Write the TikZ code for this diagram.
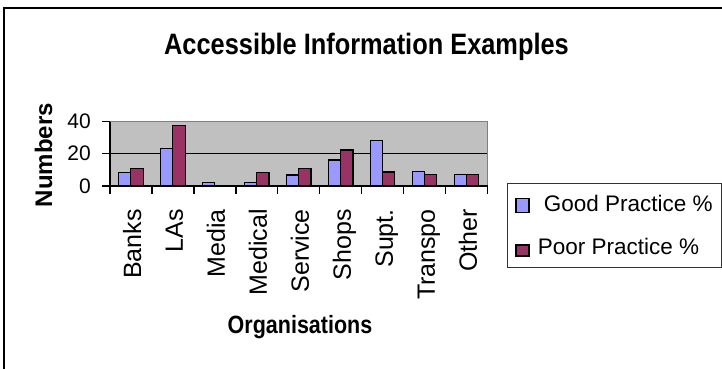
\documentclass[tikz,border=0pt]{standalone}
\usepackage{fontspec}
\setmainfont{Liberation Sans}
\newfontfamily\condfont{Liberation Sans}[FakeStretch=0.86]
\usepackage{tikz}
\usetikzlibrary{positioning}

\begin{document}
\begin{tikzpicture}[x=1pt, y=-1pt,
    bar/.style={draw=black, line width=1.1pt},
    axis/.style={draw=black, line width=1.2pt},
    cat/.style={rotate=90, anchor=base east, inner sep=0pt,
                font=\fontsize{25}{30}\selectfont},
    numlabel/.style={anchor=east, inner sep=0pt, font=\fontsize{21}{25}\selectfont},
    keytext/.style={inner sep=0pt, font=\fontsize{22.5}{27}\selectfont},
    swatch/.style={draw=black, line width=1.1pt, minimum width=13pt, inner sep=0pt},
]

% Color definitions
\definecolor{goodC}{RGB}{153,153,255}
\definecolor{poorC}{RGB}{153,51,102}
\definecolor{plotC}{RGB}{192,192,192}
\definecolor{edgeC}{RGB}{128,128,128}

\clip (0,0) rectangle (722,368);

% Chart frame
\draw[line width=2pt] (4,380) -- (4,8) -- (740,8);

\node[anchor=base, font=\condfont\bfseries\fontsize{29.5}{35}\selectfont] (title) at (366.5,54)
  {Accessible Information Examples};

% Plot area
\fill[plotC] (110,121.5) rectangle (487.7,186);
\draw[line width=1pt] (110,153.75) -- (487.7,153.75);
\draw[edgeC, line width=1.2pt] (110,121.5) -- (487.7,121.5) -- (487.7,186);

% Bars
\foreach \i/\name/\g/\p in {0/Banks/8.5/11, 1/LAs/23.4/37.4, 2/Media/2.3/0,
    3/Medical/2.3/8.5, 4/Service/6.8/11, 5/Shops/16.1/22.3,
    6/Supt./28.5/8.7, 7/Transpo/8.9/7.3, 8/Other/7.3/7.3} {
  \draw[bar, fill=goodC] ({110+41.97*\i+8.3},186) rectangle ({110+41.97*\i+20.7},{186-\g*1.6125});
  \draw[bar, fill=poorC] ({110+41.97*\i+20.7},186) rectangle ({110+41.97*\i+33.1},{186-\p*1.6125});
  \node[cat] (cat\i) at ({110+41.97*\i+31},209) {\name};
}

% Axes
\draw[axis] (110,121.5) -- (110,194);
\draw[axis] (110,186) -- (487.7,186);
\foreach \k in {1,...,9} {
  \draw[axis] ({110+41.97*\k},186) -- ({110+41.97*\k},194);
}
\foreach \v/\y in {40/121.5, 20/153.75, 0/186} {
  \draw[axis] (102,\y) -- (110,\y);
  \node[numlabel] (num\v) at (91,\y) {\v};
}

\node[rotate=90, anchor=base, font=\bfseries\fontsize{24}{29}\selectfont] (ylabel) at (52,155)
  {Numbers};
\node[anchor=base, font=\condfont\bfseries\fontsize{25}{30}\selectfont] (xlabel) at (300,333)
  {Organisations};

% Legend
\node[draw=black!80, line width=1pt, minimum width=214pt, minimum height=84pt] (legend) at (614,225) {};
\node[swatch, fill=goodC, minimum height=14pt] (goodkey) at (522.5,205.5) {};
\node[swatch, fill=poorC, minimum height=11pt] (poorkey) at (522.5,250.5) {};
\node[keytext, right=14pt of goodkey, yshift=2pt] (goodtext) {Good Practice \%};
\node[keytext, right=8pt of poorkey, yshift=4pt] (poortext) {Poor Practice \%};

\end{tikzpicture}
\end{document}
